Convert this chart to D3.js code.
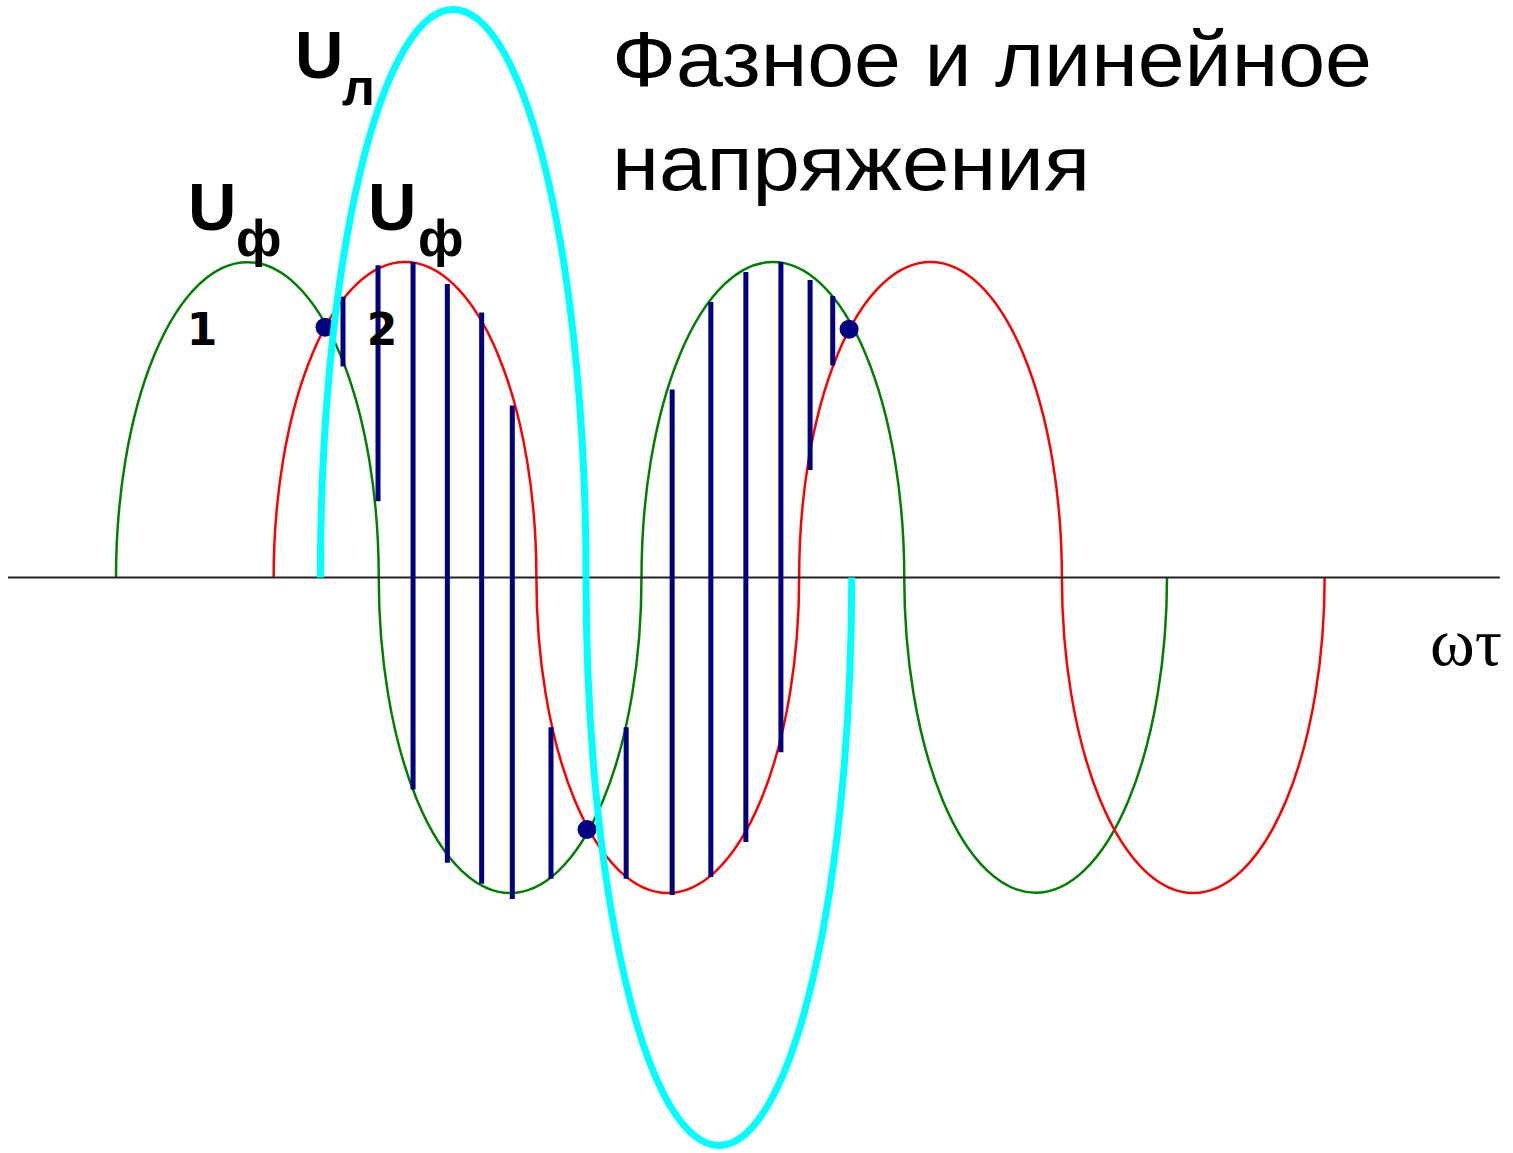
<!DOCTYPE html>
<html>
<head>
<meta charset="utf-8">
<script src="https://cdn.jsdelivr.net/npm/d3@7"></script>
<style>
  body { margin: 0; background: #fff; }
</style>
</head>
<body>
<svg id="chart"></svg>
<script>
var width = 1513
var height = 1153

// zero crossings of each wave, in degrees of ωt (first half-wave positive)
var greenZeros = [0, 180, 360, 540, 720]
var redZeros = [108, 288, 468, 648, 828]
var cyanZeros = [140, 322, 504]
var phaseAmp = 1.0
var lineAmp = 1.8
var axisRange = [-74, 948]

// hatch bars between the two phase curves
var barT      = [155.5, 179.5, 203.5, 227, 250.5, 271.5, 298, 349.5, 381, 407.5, 431.5, 455.5, 475.5, 491]
var barTop    = [0.89, 0.99, 1.0, 0.93, 0.84, 0.545, -0.475, -0.475, 0.596, 0.873, 0.968, 1.0, 0.943, 0.892]
var barBottom = [0.669, 0.242, -0.672, -0.904, -0.971, -1.019, -0.955, -0.955, -1.006, -0.949, -0.838, -0.554, 0.341, 0.672]

// intersection points of the phase curves
var dotT = [143.2, 322.7, 502.2]
var dotV = [0.793, -0.799, 0.787]

var x = d3.scaleLinear().domain([0, 720]).range([116, 1167])
var y = d3.scaleLinear().domain([-1, 1]).range([893, 262])

var svg = d3.select("#chart")
    .attr("width", width)
    .attr("height", height)

function halfWaves(zeros, amp) {
    var out = []
    for (var i = 0; i < zeros.length - 1; i++) {
        out.push({ t0: zeros[i], t1: zeros[i + 1], v: i % 2 == 0 ? amp : -amp })
    }
    return out
}

function arcPath(d) {
    var rx = (x(d.t1) - x(d.t0)) / 2
    var ry = Math.abs(y(d.v) - y(0))
    return "M" + x(d.t0) + "," + y(0) +
        " A" + rx + "," + ry + " 0 0 " + (d.v > 0 ? 1 : 0) + " " + x(d.t1) + "," + y(0)
}

function drawWave(zeros, amp, color, w) {
    svg.append("g")
        .selectAll("path")
        .data(halfWaves(zeros, amp))
        .enter()
        .append("path")
            .attr("d", arcPath)
            .attr("fill", "none")
            .attr("stroke", color)
            .attr("stroke-width", w)
}

drawWave(greenZeros, phaseAmp, "#008000", 2.5)
drawWave(redZeros, phaseAmp, "#ff0000", 2.5)

// ωt axis
svg.append("line")
    .attr("x1", x(axisRange[0]))
    .attr("x2", x(axisRange[1]))
    .attr("y1", y(0))
    .attr("y2", y(0))
    .attr("stroke", "#222")
    .attr("stroke-width", 2)

svg.append("g")
    .selectAll("line")
    .data(barT)
    .enter()
    .append("line")
        .attr("x1", d => x(d))
        .attr("x2", d => x(d))
        .attr("y1", (d, i) => y(barTop[i]))
        .attr("y2", (d, i) => y(barBottom[i]))
        .attr("stroke", "#000080")
        .attr("stroke-width", 5)

svg.append("g")
    .selectAll("circle")
    .data(dotT)
    .enter()
    .append("circle")
        .attr("cx", d => x(d))
        .attr("cy", (d, i) => y(dotV[i]))
        .attr("r", 9.5)
        .attr("fill", "#000080")

drawWave(cyanZeros, lineAmp, "#00ffff", 7)

// labels
var title = svg.append("g")
    .style("font-family", "'Liberation Sans', Arial, sans-serif")
    .style("font-size", "78px")
    .attr("fill", "#000")
title.append("text")
    .attr("x", 612).attr("y", 86)
    .attr("textLength", 760).attr("lengthAdjust", "spacingAndGlyphs")
    .text("Фазное и линейное")
title.append("text")
    .attr("x", 612).attr("y", 190)
    .attr("textLength", 478).attr("lengthAdjust", "spacingAndGlyphs")
    .text("напряжения")

function uLabel(ux, uy, sub, sx, sy) {
    var g = svg.append("g")
        .style("font-family", "'Liberation Sans', Arial, sans-serif")
        .style("font-weight", "bold")
        .attr("fill", "#000")
    g.append("text").attr("x", ux).attr("y", uy).style("font-size", "67px").text("U")
    g.append("text").attr("x", sx).attr("y", sy).style("font-size", "52px").text(sub)
}
uLabel(295, 78, "л", 342, 105)
uLabel(188, 230, "ф", 236, 256)
uLabel(368, 230, "ф", 418, 256)

var nums = [{ t: "1", cx: 202 }, { t: "2", cx: 382 }]
svg.append("g")
    .selectAll("text")
    .data(nums)
    .enter()
    .append("text")
        .attr("x", d => d.cx)
        .attr("y", 345)
        .attr("text-anchor", "middle")
        .style("font-family", "'DejaVu Sans', sans-serif")
        .style("font-weight", "bold")
        .style("font-size", "44px")
        .text(d => d.t)

svg.append("text")
    .attr("x", 1430)
    .attr("y", 665)
    .attr("textLength", 72).attr("lengthAdjust", "spacingAndGlyphs")
    .style("font-family", "'Liberation Serif', 'Times New Roman', serif")
    .style("font-size", "68px")
    .text("ωτ")
</script>
</body>
</html>
